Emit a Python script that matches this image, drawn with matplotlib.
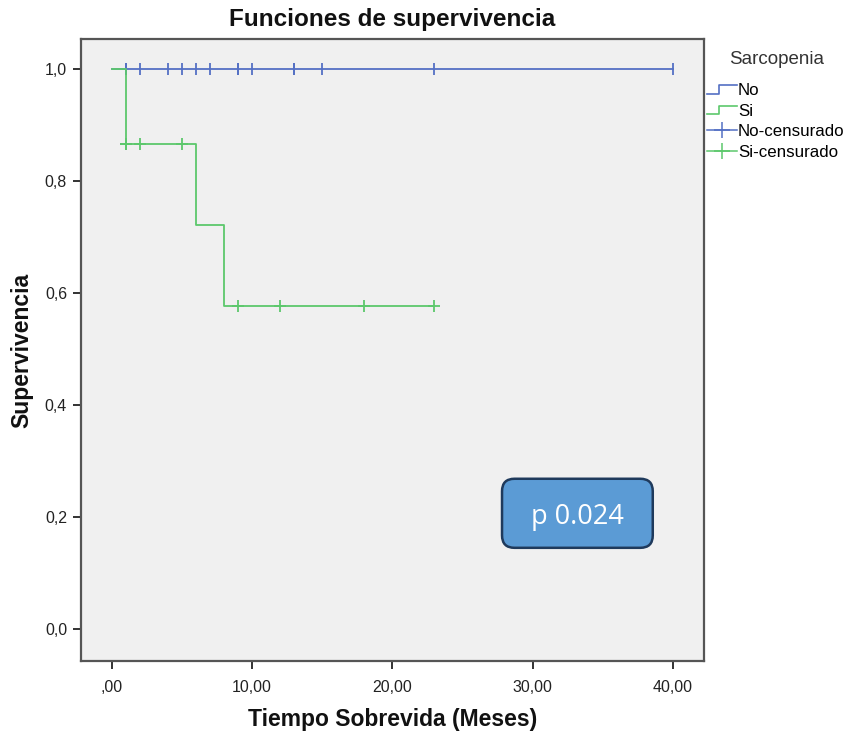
import matplotlib
matplotlib.use("Agg")
import matplotlib.pyplot as plt
from matplotlib.lines import Line2D
from matplotlib.legend_handler import HandlerBase
from matplotlib.patches import FancyBboxPatch

plt.rcParams['font.family'] = ['Liberation Sans', 'DejaVu Sans']

# Step survival data
no_times = [0, 40]
no_surv = [1.0, 1.0]
no_cens_t = [1, 1, 2, 4, 5, 6, 7, 9, 9, 10, 13, 13, 15, 23, 40]
no_cens_s = [1.0] * len(no_cens_t)

si_times = [0, 1, 6, 8, 23]
si_surv = [1.0, 0.8667, 0.7222, 0.5778, 0.5778]
si_cens_t = [1, 1, 2, 5, 9, 12, 18, 23]
si_cens_s = [0.8667, 0.8667, 0.8667, 0.8667, 0.5778, 0.5778, 0.5778, 0.5778]

xticks = [0, 10, 20, 30, 40]
xticklabels = [',00', '10,00', '20,00', '30,00', '40,00']
yticks = [0.0, 0.2, 0.4, 0.6, 0.8, 1.0]
yticklabels = ['0,0', '0,2', '0,4', '0,6', '0,8', '1,0']

blue = '#5470c4'
green = '#5cc86c'

fig = plt.figure(figsize=(8.48, 7.33), dpi=100)
ax = fig.add_axes([0.0955, 0.0982, 0.7345, 0.8486])
ax.set_facecolor('#f0f0f0')

ax.step(no_times, no_surv, where='post', color=blue, lw=1.3, zorder=2)
ax.plot(no_cens_t, no_cens_s, ls='none', marker='|', ms=9, mew=1.3, color=blue, zorder=3)
ax.step(si_times, si_surv, where='post', color=green, lw=1.3, zorder=4)
ax.plot(si_cens_t, si_cens_s, ls='none', marker='+', ms=9, mew=1.3, color=green, zorder=5)

ax.set_xlim(-2.2, 42.2)
ax.set_ylim(-0.0566, 1.054)
ax.set_xticks(xticks)
ax.set_xticklabels(xticklabels, fontsize=11.5)
ax.set_yticks(yticks)
ax.set_yticklabels(yticklabels, fontsize=11.5)
ax.tick_params(direction='out', length=6, width=1.3, color='#222222', labelcolor='#222222', pad=4)
ax.tick_params(axis='x', pad=8)
for s in ax.spines.values():
    s.set_color('#555555')
    s.set_linewidth(1.6)

ax.set_title('Funciones de supervivencia', fontsize=17.5, fontweight='bold', pad=9, color='#111111')
ax.set_xlabel('Tiempo Sobrevida (Meses)', fontsize=16.5, fontweight='bold', labelpad=9, color='#111111')
ax.set_ylabel('Supervivencia', fontsize=16.5, fontweight='bold', labelpad=8, color='#111111')

# p-value box
box = FancyBboxPatch((0.676, 0.182), 0.242, 0.111, boxstyle='round,pad=0,rounding_size=0.02',
                     transform=ax.transAxes, facecolor='#5b9bd5', edgecolor='#1f3a5c', lw=1.8, zorder=6)
ax.add_patch(box)
ax.text(0.797, 0.232, 'p 0.024', transform=ax.transAxes, ha='center', va='center',
        fontsize=19.5, color='white', family=['Open Sans', 'DejaVu Sans'], zorder=7)


class StepHandler(HandlerBase):
    def create_artists(self, legend, orig_handle, xdescent, ydescent, width, height, fontsize, trans):
        xs = [0, width * 0.42, width * 0.42, width]
        ys = [height * 0.1, height * 0.1, height * 0.85, height * 0.85]
        ln = Line2D([x - xdescent for x in xs], [y - ydescent for y in ys],
                    color=orig_handle.get_color(), lw=1.2, transform=trans)
        return [ln]


h_no = Line2D([], [], color=blue)
h_si = Line2D([], [], color=green)
h_noc = Line2D([], [], color=blue, marker='+', ms=11, mew=1.1, lw=1.1)
h_sic = Line2D([], [], color=green, marker='+', ms=11, mew=1.1, lw=1.1)
leg = fig.legend([h_no, h_si, h_noc, h_sic], ['No', 'Si', 'No-censurado', 'Si-censurado'],
                 handler_map={h_no: StepHandler(), h_si: StepHandler()},
                 loc='upper left', bbox_to_anchor=(707 / 848, 1 - 83 / 733),
                 bbox_transform=fig.transFigure,
                 frameon=False, fontsize=12.2, handlelength=1.75,
                 handletextpad=0.08, labelspacing=0.33, borderaxespad=0, borderpad=0)
fig.text(777 / 848, 1 - 60 / 733, 'Sarcopenia', ha='center', va='center',
         fontsize=13.5, color='#333333')

fig.savefig('out.png', dpi=100, facecolor='white')
